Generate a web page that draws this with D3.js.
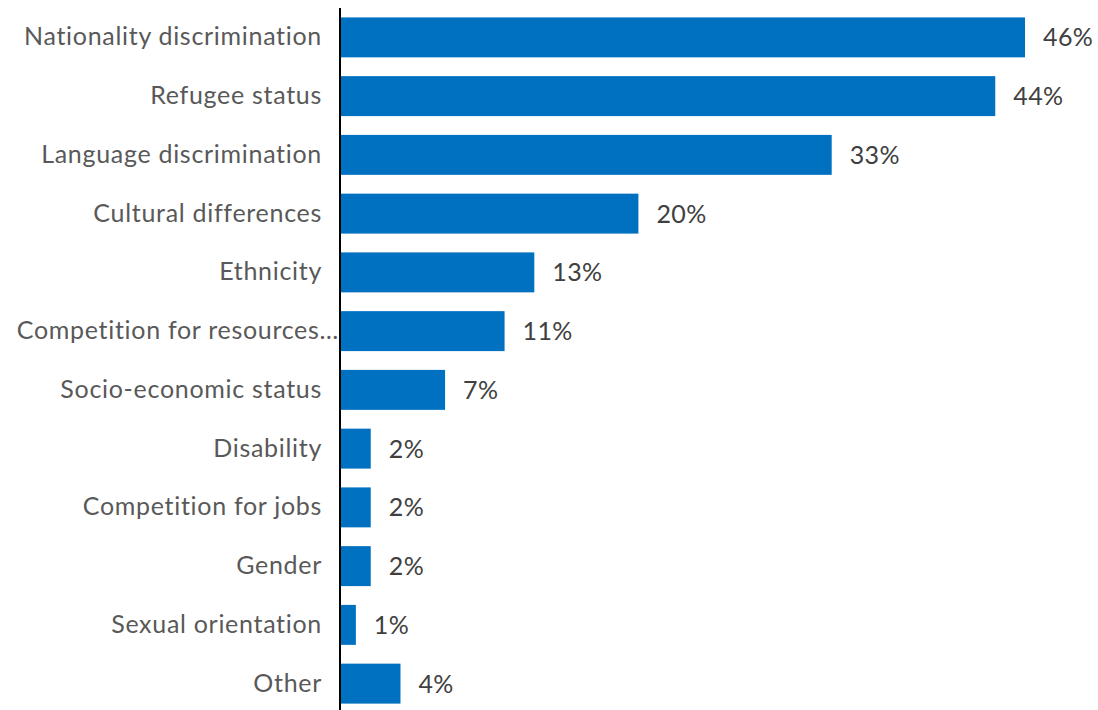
<!DOCTYPE html>
<html>
<head>
<meta charset="utf-8">
<script src="https://cdn.jsdelivr.net/npm/d3@7"></script>
<style>
  html, body { margin: 0; padding: 0; background: #fff; }
  svg { display: block; }
  text { font-family: Lato, "Open Sans", sans-serif; }
</style>
</head>
<body>
<svg id="chart" width="1098" height="710"></svg>
<script>
// Reasons for discrimination reported (% of respondents)
const categories = [
  "Nationality discrimination",
  "Refugee status",
  "Language discrimination",
  "Cultural differences",
  "Ethnicity",
  "Competition for resources\u2026",
  "Socio-economic status",
  "Disability",
  "Competition for jobs",
  "Gender",
  "Sexual orientation",
  "Other"
];
const values = [46, 44, 33, 20, 13, 11, 7, 2, 2, 2, 1, 4];

const svg = d3.select("#chart");
const width = 1098, height = 710;
const margin = { top: 8, right: 0, bottom: 0, left: 341 };

const x = d3.scaleLinear()
  .domain([0, 46])
  .range([margin.left, 1025]);

const y = d3.scaleBand()
  .domain(categories)
  .range([8, 713])
  .paddingInner(0.32)
  .paddingOuter(0.16);

const rows = categories.map((c, i) => ({ cat: c, val: values[i] }));

// category axis (drawn first so truncated labels sit under the axis line)
const yAxis = d3.axisLeft(y).tickSize(0).tickPadding(18);
const ag = svg.append("g")
  .attr("transform", `translate(${margin.left - 1},0)`)
  .call(yAxis);
ag.select(".domain").remove();
ag.selectAll("text")
  .attr("font-size", 25)
  .attr("letter-spacing", 0.7)
  .attr("font-family", "Lato, 'Open Sans', sans-serif")
  .attr("fill", "#595959");
// a truncated label runs right up to the axis
ag.selectAll("text")
  .filter(d => d.endsWith("\u2026"))
  .attr("x", -1);

// bars
svg.append("g")
  .selectAll("rect")
  .data(rows)
  .join("rect")
  .attr("x", x(0))
  .attr("y", d => y(d.cat))
  .attr("width", d => x(d.val) - x(0))
  .attr("height", y.bandwidth())
  .attr("fill", "#0070C0");

// value labels
svg.append("g")
  .selectAll("text")
  .data(rows)
  .join("text")
  .attr("x", d => x(d.val) + 18)
  .attr("y", d => y(d.cat) + y.bandwidth() / 2)
  .attr("dy", "0.36em")
  .attr("font-size", 25)
  .attr("letter-spacing", 0.4)
  .attr("fill", "#404040")
  .text(d => d.val + "%");

svg.append("line")
  .attr("x1", margin.left - 1).attr("x2", margin.left - 1)
  .attr("y1", 8).attr("y2", height)
  .attr("stroke", "#000")
  .attr("stroke-width", 2);
</script>
</body>
</html>
